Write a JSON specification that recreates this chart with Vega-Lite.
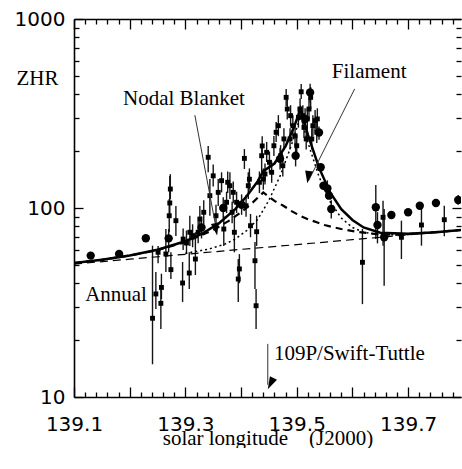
{
  "$schema": "https://vega.github.io/schema/vega-lite/v6.json",
  "width": 387,
  "height": 378,
  "padding": {"left": 14, "top": 9, "right": 0, "bottom": 0},
  "config": {
    "view": {"stroke": null},
    "axis": {"grid": false, "domainColor": "black", "tickColor": "black", "labelColor": "black", "titleColor": "black", "tickWidth": 1.3, "domainWidth": 1.6}
  },
  "datasets": {
    "pts": [
      {"x":139.241,"y":26.1,"lo":14.9,"hi":63.2,"k":"s"},
      {"x":139.247,"y":35.1,"lo":29.2,"hi":45.8,"k":"s"},
      {"x":139.251,"y":58.3,"lo":51,"hi":63,"k":"s"},
      {"x":139.256,"y":31.3,"lo":22.9,"hi":37.3,"k":"s"},
      {"x":139.257,"y":38.0,"lo":33,"hi":44.9,"k":"s"},
      {"x":139.265,"y":57.1,"lo":45.8,"hi":77.4,"k":"s"},
      {"x":139.270,"y":69.1,"lo":58.3,"hi":77.4,"k":"b"},
      {"x":139.271,"y":91.0,"lo":74.4,"hi":111.6,"k":"s"},
      {"x":139.272,"y":106.3,"lo":90.9,"hi":147.7,"k":"s"},
      {"x":139.273,"y":126,"lo":111.6,"hi":151,"k":"s"},
      {"x":139.274,"y":47.2,"lo":42.1,"hi":58.3,"k":"s"},
      {"x":139.283,"y":85.7,"lo":71.1,"hi":102.5,"k":"s"},
      {"x":139.295,"y":40.1,"lo":31.8,"hi":51.8,"k":"s"},
      {"x":139.296,"y":68.5,"lo":60,"hi":78,"k":"s"},
      {"x":139.302,"y":65.3,"lo":57,"hi":76,"k":"s"},
      {"x":139.307,"y":45.3,"lo":37.3,"hi":58.3,"k":"s"},
      {"x":139.308,"y":74.4,"lo":63,"hi":91,"k":"s"},
      {"x":139.313,"y":71.4,"lo":62,"hi":82,"k":"s"},
      {"x":139.318,"y":53.7,"lo":44.2,"hi":74.4,"k":"s"},
      {"x":139.323,"y":74.4,"lo":65,"hi":85,"k":"s"},
      {"x":139.326,"y":87.4,"lo":74.4,"hi":102.5,"k":"s"},
      {"x":139.329,"y":78.9,"lo":69,"hi":90,"k":"b"},
      {"x":139.333,"y":94.9,"lo":82,"hi":110,"k":"s"},
      {"x":139.341,"y":185.5,"lo":154.5,"hi":213,"k":"s"},
      {"x":139.344,"y":116.2,"lo":91,"hi":142.4,"k":"s"},
      {"x":139.350,"y":148,"lo":130,"hi":170,"k":"s"},
      {"x":139.355,"y":91.0,"lo":80,"hi":104,"k":"s"},
      {"x":139.359,"y":121,"lo":102.5,"hi":142.4,"k":"s"},
      {"x":139.365,"y":139.5,"lo":121,"hi":154.5,"k":"s"},
      {"x":139.368,"y":100,"lo":88,"hi":114,"k":"b"},
      {"x":139.369,"y":77.4,"lo":63,"hi":91,"k":"s"},
      {"x":139.374,"y":107.2,"lo":94,"hi":122,"k":"s"},
      {"x":139.376,"y":136.8,"lo":120,"hi":156,"k":"s"},
      {"x":139.380,"y":131.2,"lo":111.6,"hi":154.5,"k":"s"},
      {"x":139.384,"y":94.9,"lo":83,"hi":108,"k":"s"},
      {"x":139.386,"y":121,"lo":106,"hi":138,"k":"s"},
      {"x":139.388,"y":74.4,"lo":58.3,"hi":91,"k":"s"},
      {"x":139.392,"y":107.2,"lo":94,"hi":122,"k":"s"},
      {"x":139.395,"y":42.1,"lo":31.8,"hi":53.7,"k":"s"},
      {"x":139.397,"y":47.6,"lo":40,"hi":57,"k":"s"},
      {"x":139.401,"y":104,"lo":92,"hi":118,"k":"b"},
      {"x":139.406,"y":183,"lo":160.8,"hi":205,"k":"s"},
      {"x":139.409,"y":102.8,"lo":90,"hi":117,"k":"s"},
      {"x":139.413,"y":131.2,"lo":111.6,"hi":154.5,"k":"s"},
      {"x":139.415,"y":142,"lo":125,"hi":162,"k":"s"},
      {"x":139.417,"y":80.6,"lo":70,"hi":93,"k":"s"},
      {"x":139.425,"y":52.6,"lo":37.3,"hi":66.1,"k":"s"},
      {"x":139.427,"y":30.4,"lo":22.9,"hi":37.3,"k":"s"},
      {"x":139.428,"y":74.9,"lo":63,"hi":91,"k":"s"},
      {"x":139.433,"y":136.8,"lo":120,"hi":156,"k":"s"},
      {"x":139.437,"y":189,"lo":154.5,"hi":213,"k":"s"},
      {"x":139.438,"y":213,"lo":188,"hi":240,"k":"s"},
      {"x":139.440,"y":142.4,"lo":125,"hi":162,"k":"s"},
      {"x":139.443,"y":151.3,"lo":133,"hi":172,"k":"s"},
      {"x":139.446,"y":197,"lo":175.1,"hi":223.5,"k":"s"},
      {"x":139.451,"y":174.5,"lo":153,"hi":199,"k":"s"},
      {"x":139.455,"y":154.5,"lo":136,"hi":176,"k":"s"},
      {"x":139.459,"y":213.5,"lo":188.4,"hi":240.4,"k":"s"},
      {"x":139.463,"y":251.5,"lo":223.5,"hi":285,"k":"s"},
      {"x":139.467,"y":272.5,"lo":240,"hi":310,"k":"s"},
      {"x":139.470,"y":182,"lo":160,"hi":207,"k":"b"},
      {"x":139.471,"y":189,"lo":166,"hi":215,"k":"s"},
      {"x":139.475,"y":167.4,"lo":147,"hi":190,"k":"s"},
      {"x":139.477,"y":232,"lo":204,"hi":264,"k":"s"},
      {"x":139.481,"y":385,"lo":346.5,"hi":426,"k":"s"},
      {"x":139.483,"y":334,"lo":294,"hi":380,"k":"s"},
      {"x":139.488,"y":232,"lo":204,"hi":264,"k":"s"},
      {"x":139.489,"y":308,"lo":271,"hi":350,"k":"s"},
      {"x":139.493,"y":272.5,"lo":240,"hi":310,"k":"s"},
      {"x":139.497,"y":241,"lo":212,"hi":274,"k":"s"},
      {"x":139.498,"y":189,"lo":166,"hi":215,"k":"b"},
      {"x":139.500,"y":213.5,"lo":188,"hi":243,"k":"s"},
      {"x":139.503,"y":302,"lo":266,"hi":343,"k":"s"},
      {"x":139.506,"y":334,"lo":294,"hi":380,"k":"s"},
      {"x":139.508,"y":412,"lo":377.4,"hi":453,"k":"s"},
      {"x":139.511,"y":308,"lo":271,"hi":350,"k":"s"},
      {"x":139.513,"y":267,"lo":235,"hi":304,"k":"s"},
      {"x":139.515,"y":296,"lo":260,"hi":337,"k":"b"},
      {"x":139.517,"y":232,"lo":204,"hi":264,"k":"s"},
      {"x":139.519,"y":296,"lo":260,"hi":337,"k":"s"},
      {"x":139.522,"y":334,"lo":294,"hi":380,"k":"s"},
      {"x":139.524,"y":409,"lo":360,"hi":455,"k":"b"},
      {"x":139.525,"y":385,"lo":334,"hi":436.7,"k":"s"},
      {"x":139.527,"y":232,"lo":204,"hi":264,"k":"s"},
      {"x":139.529,"y":272.5,"lo":240,"hi":310,"k":"s"},
      {"x":139.533,"y":290,"lo":255,"hi":330,"k":"s"},
      {"x":139.536,"y":251.5,"lo":221,"hi":286,"k":"s"},
      {"x":139.537,"y":296,"lo":260,"hi":337,"k":"s"},
      {"x":139.618,"y":51.6,"lo":31.0,"hi":77.4,"k":"s"},
      {"x":139.655,"y":89.3,"lo":63.2,"hi":109.3,"k":"s"},
      {"x":139.688,"y":70.0,"lo":53.7,"hi":85.7,"k":"s"},
      {"x":139.724,"y":81.3,"lo":63.2,"hi":102.8,"k":"s"},
      {"x":139.765,"y":86.7,"lo":70.8,"hi":102.8,"k":"s"},
      {"x":139.130,"y":56.0,"lo":null,"hi":null,"k":"b"},
      {"x":139.181,"y":57.1,"lo":null,"hi":null,"k":"b"},
      {"x":139.229,"y":69.2,"lo":null,"hi":null,"k":"b"},
      {"x":139.540,"y":251,"lo":230,"hi":270,"k":"b"},
      {"x":139.543,"y":164.2,"lo":null,"hi":null,"k":"b"},
      {"x":139.548,"y":131.2,"lo":null,"hi":null,"k":"b"},
      {"x":139.555,"y":127.1,"lo":115,"hi":140,"k":"b"},
      {"x":139.558,"y":116.2,"lo":null,"hi":null,"k":"b"},
      {"x":139.562,"y":98.8,"lo":88,"hi":110,"k":"b"},
      {"x":139.642,"y":100.9,"lo":68.5,"hi":132.3,"k":"b"},
      {"x":139.645,"y":81.3,"lo":65,"hi":95,"k":"b"},
      {"x":139.657,"y":70.0,"lo":38.8,"hi":98.8,"k":"b"},
      {"x":139.670,"y":91.8,"lo":null,"hi":null,"k":"b"},
      {"x":139.700,"y":94.9,"lo":null,"hi":null,"k":"b"},
      {"x":139.721,"y":102.8,"lo":null,"hi":null,"k":"b"},
      {"x":139.750,"y":106.3,"lo":null,"hi":null,"k":"b"},
      {"x":139.790,"y":110.2,"lo":104,"hi":117,"k":"b"}
    ],
    "curves": [
      {"c":"annual","x":139.1,"y":50.5},{"c":"annual","x":139.2,"y":53.6},{"c":"annual","x":139.3,"y":56.9},{"c":"annual","x":139.4,"y":60.4},{"c":"annual","x":139.5,"y":64.0},{"c":"annual","x":139.6,"y":68.0},{"c":"annual","x":139.7,"y":72.1},{"c":"annual","x":139.795,"y":76.3},
      {"c":"blanket","x":139.10,"y":51.1},{"c":"blanket","x":139.15,"y":53.2},{"c":"blanket","x":139.20,"y":56.0},{"c":"blanket","x":139.25,"y":59.9},{"c":"blanket","x":139.30,"y":66.0},{"c":"blanket","x":139.35,"y":76.4},{"c":"blanket","x":139.38,"y":86.2},{"c":"blanket","x":139.40,"y":95.0},{"c":"blanket","x":139.42,"y":106.3},{"c":"blanket","x":139.44,"y":120.8},{"c":"blanket","x":139.46,"y":109},{"c":"blanket","x":139.476,"y":102.8},{"c":"blanket","x":139.49,"y":96.5},{"c":"blanket","x":139.506,"y":91},{"c":"blanket","x":139.52,"y":87.3},{"c":"blanket","x":139.536,"y":84},{"c":"blanket","x":139.55,"y":81.3},{"c":"blanket","x":139.566,"y":79.1},{"c":"blanket","x":139.58,"y":77.4},{"c":"blanket","x":139.596,"y":75.9},{"c":"blanket","x":139.61,"y":74.7},{"c":"blanket","x":139.625,"y":73.8},{"c":"blanket","x":139.64,"y":72.9},{"c":"blanket","x":139.655,"y":72.3},{"c":"blanket","x":139.68,"y":72.2},{"c":"blanket","x":139.70,"y":72.7},{"c":"blanket","x":139.75,"y":74.6},{"c":"blanket","x":139.795,"y":76.5},
      {"c":"filament","x":139.30,"y":57.6},{"c":"filament","x":139.34,"y":60.4},{"c":"filament","x":139.37,"y":64.2},{"c":"filament","x":139.39,"y":68.6},{"c":"filament","x":139.41,"y":75.9},{"c":"filament","x":139.43,"y":87.0},{"c":"filament","x":139.45,"y":109.8},{"c":"filament","x":139.47,"y":147.4},{"c":"filament","x":139.49,"y":213.1},{"c":"filament","x":139.507,"y":307.3},{"c":"filament","x":139.52,"y":222.3},{"c":"filament","x":139.54,"y":146.5},{"c":"filament","x":139.56,"y":107.9},{"c":"filament","x":139.58,"y":88.5},{"c":"filament","x":139.60,"y":78.9},{"c":"filament","x":139.62,"y":74.4},{"c":"filament","x":139.65,"y":72.0},{"c":"filament","x":139.70,"y":72.4},{"c":"filament","x":139.795,"y":76.3},
      {"c":"total","x":139.10,"y":51.1},{"c":"total","x":139.15,"y":53.3},{"c":"total","x":139.20,"y":56.0},{"c":"total","x":139.25,"y":60.1},{"c":"total","x":139.30,"y":66.7},{"c":"total","x":139.33,"y":73.1},{"c":"total","x":139.36,"y":82.9},{"c":"total","x":139.39,"y":98.9},{"c":"total","x":139.41,"y":115.4},{"c":"total","x":139.43,"y":138.6},{"c":"total","x":139.44,"y":156.6},{"c":"total","x":139.46,"y":171.9},{"c":"total","x":139.48,"y":212.6},{"c":"total","x":139.495,"y":267.4},{"c":"total","x":139.507,"y":334.3},{"c":"total","x":139.52,"y":244.3},{"c":"total","x":139.54,"y":163.5},{"c":"total","x":139.56,"y":120.9},{"c":"total","x":139.58,"y":98.5},{"c":"total","x":139.60,"y":86.4},{"c":"total","x":139.62,"y":78.9},{"c":"total","x":139.65,"y":74.0},{"c":"total","x":139.70,"y":73.0},{"c":"total","x":139.75,"y":74.5},{"c":"total","x":139.795,"y":76.4}
    ],
    "leaders": [
      {"name":"nodal","x":139.317,"y":310},{"name":"nodal","x":139.356,"y":76},
      {"name":"filament","x":139.604,"y":426.6},{"name":"filament","x":139.521,"y":139},
      {"name":"comet","x":139.448,"y":19.1},{"name":"comet","x":139.448,"y":11.6}
    ],
    "heads": [
      {"name":"nodal","x":139.357,"y":71.5},
      {"name":"filament","x":139.519,"y":135},
      {"name":"comet","x":139.448,"y":11.0}
    ],
    "notes": [
      {"text":"Nodal Blanket","x":139.188,"y":350},
      {"text":"Filament","x":139.563,"y":487},
      {"text":"Annual","x":139.120,"y":32.2},
      {"text":"109P/Swift-Tuttle","x":139.459,"y":15.7}
    ]
  },
  "layer": [
    {
      "data": {"name": "pts"},
      "transform": [{"filter": "datum.lo != null"}],
      "mark": {"type": "rule", "strokeWidth": 1.4, "color": "#151515", "clip": true},
      "encoding": {
        "x": {"field": "x", "type": "quantitative", "scale": {"domain": [139.1, 139.795], "nice": false, "zero": false}, "axis": null},
        "y": {"field": "lo", "type": "quantitative", "scale": {"type": "log", "domain": [10, 1000], "nice": false}, "axis": null},
        "y2": {"field": "hi"}
      }
    },
    {
      "data": {"name": "curves"},
      "transform": [{"filter": "datum.c == 'annual'"}],
      "mark": {"type": "line", "color": "black", "strokeWidth": 1.2, "strokeDash": [8, 5], "clip": true},
      "encoding": {
        "x": {"field": "x", "type": "quantitative", "scale": {"domain": [139.1, 139.795], "nice": false, "zero": false},
          "axis": {
            "orient": "bottom",
            "values": [139.1,139.2,139.3,139.4,139.5,139.6,139.7],
            "tickSize": -10,
            "labelExpr": "round(datum.value*10) % 2 == 1 ? format(datum.value, '.1f') : ''",
            "labelFont": "DejaVu Sans", "labelFontSize": 20, "labelPadding": 27,
            "labelFlush": false, "labelOverlap": false,
            "title": "solar longitude\u00a0\u00a0\u00a0\u00a0(J2000)",
            "titleFont": "Liberation Serif", "titleFontSize": 21, "titleFontWeight": "normal",
            "titleY": 47, "titleBaseline": "alphabetic"
          }
        },
        "y": {"field": "y", "type": "quantitative", "scale": {"type": "log", "domain": [10, 1000], "nice": false},
          "axis": {
            "orient": "left",
            "values": [10, 100, 1000],
            "tickSize": -9,
            "labelExpr": "format(datum.value, 'd')",
            "labelFont": "DejaVu Sans", "labelFontSize": 20, "labelPadding": 18,
            "labelOverlap": false,
            "title": "ZHR", "titleAngle": 0, "titleX": -58, "titleY": 65, "titleAlign": "left", "titleBaseline": "alphabetic",
            "titleFont": "Liberation Serif", "titleFontSize": 21, "titleFontWeight": "normal"
          }
        }
      }
    },
    {
      "data": {"name": "curves"},
      "transform": [{"filter": "datum.c == 'blanket'"}],
      "mark": {"type": "line", "color": "black", "strokeWidth": 2.2, "strokeDash": [7, 5], "clip": true},
      "encoding": {
        "x": {"field": "x", "type": "quantitative", "scale": {"domain": [139.1, 139.795], "nice": false, "zero": false},
          "axis": {
            "orient": "bottom",
            "values": [139.12,139.14,139.16,139.18,139.22,139.24,139.26,139.28,139.32,139.34,139.36,139.38,139.42,139.44,139.46,139.48,139.52,139.54,139.56,139.58,139.62,139.64,139.66,139.68,139.72,139.74,139.76,139.78],
            "tickSize": -5, "labels": false, "domain": false, "title": null
          }
        },
        "y": {"field": "y", "type": "quantitative", "scale": {"type": "log", "domain": [10, 1000], "nice": false},
          "axis": {
            "orient": "left",
            "values": [20,30,40,50,60,70,80,90,200,300,400,500,600,700,800,900],
            "tickSize": -5, "labels": false, "domain": false, "title": null
          }
        }
      }
    },
    {
      "data": {"name": "curves"},
      "transform": [{"filter": "datum.c == 'filament'"}],
      "mark": {"type": "line", "color": "black", "strokeWidth": 1.5, "strokeDash": [2, 3], "clip": true},
      "encoding": {
        "x": {"field": "x", "type": "quantitative", "scale": {"domain": [139.1, 139.795], "nice": false, "zero": false},
          "axis": {
            "orient": "top",
            "values": [139.1,139.2,139.3,139.4,139.5,139.6,139.7],
            "tickSize": -10, "labels": false, "title": null
          }
        },
        "y": {"field": "y", "type": "quantitative", "scale": {"type": "log", "domain": [10, 1000], "nice": false},
          "axis": {
            "orient": "right",
            "values": [10, 100, 1000],
            "tickSize": -9, "labels": false, "domain": false, "title": null
          }
        }
      }
    },
    {
      "data": {"name": "curves"},
      "transform": [{"filter": "datum.c == 'total'"}],
      "mark": {"type": "line", "color": "black", "strokeWidth": 2.5, "clip": true},
      "encoding": {
        "x": {"field": "x", "type": "quantitative", "scale": {"domain": [139.1, 139.795], "nice": false, "zero": false},
          "axis": {
            "orient": "top",
            "values": [139.12,139.14,139.16,139.18,139.22,139.24,139.26,139.28,139.32,139.34,139.36,139.38,139.42,139.44,139.46,139.48,139.52,139.54,139.56,139.58,139.62,139.64,139.66,139.68,139.72,139.74,139.76,139.78],
            "tickSize": -5, "labels": false, "domain": false, "title": null
          }
        },
        "y": {"field": "y", "type": "quantitative", "scale": {"type": "log", "domain": [10, 1000], "nice": false},
          "axis": {
            "orient": "right",
            "values": [20,30,40,50,60,70,80,90,200,300,400,500,600,700,800,900],
            "tickSize": -5, "labels": false, "domain": false, "title": null
          }
        }
      }
    },
    {
      "data": {"name": "pts"},
      "transform": [{"filter": "datum.k == 's'"}],
      "mark": {"type": "point", "shape": "square", "filled": true, "size": 24, "color": "black", "opacity": 1, "clip": true},
      "encoding": {
        "x": {"field": "x", "type": "quantitative", "scale": {"domain": [139.1, 139.795], "nice": false, "zero": false}, "axis": null},
        "y": {"field": "y", "type": "quantitative", "scale": {"type": "log", "domain": [10, 1000], "nice": false}, "axis": null}
      }
    },
    {
      "data": {"name": "pts"},
      "transform": [{"filter": "datum.k == 'b'"}],
      "mark": {"type": "point", "shape": "circle", "filled": true, "size": 70, "color": "black", "opacity": 1, "clip": true},
      "encoding": {
        "x": {"field": "x", "type": "quantitative", "scale": {"domain": [139.1, 139.795], "nice": false, "zero": false}, "axis": null},
        "y": {"field": "y", "type": "quantitative", "scale": {"type": "log", "domain": [10, 1000], "nice": false}, "axis": null}
      }
    },
    {
      "data": {"name": "leaders"},
      "mark": {"type": "line", "color": "#333", "strokeWidth": 1},
      "encoding": {
        "x": {"field": "x", "type": "quantitative", "scale": {"domain": [139.1, 139.795], "nice": false, "zero": false}, "axis": null},
        "y": {"field": "y", "type": "quantitative", "scale": {"type": "log", "domain": [10, 1000], "nice": false}, "axis": null},
        "detail": {"field": "name"}
      }
    },
    {
      "data": {"name": "heads"},
      "mark": {"type": "point", "shape": "M0,0L0.7,2.2L-0.7,2.2Z", "filled": true, "size": 130, "color": "black", "opacity": 1},
      "encoding": {
        "x": {"field": "x", "type": "quantitative", "scale": {"domain": [139.1, 139.795], "nice": false, "zero": false}, "axis": null},
        "y": {"field": "y", "type": "quantitative", "scale": {"type": "log", "domain": [10, 1000], "nice": false}, "axis": null},
        "angle": {"field": "name", "type": "nominal", "scale": {"domain": ["nodal", "filament", "comet"], "range": [169.5, 207, 180]}, "legend": null}
      }
    },
    {
      "data": {"name": "notes"},
      "mark": {"type": "text", "align": "left", "baseline": "alphabetic", "font": "Liberation Serif", "fontSize": 21, "color": "black"},
      "encoding": {
        "x": {"field": "x", "type": "quantitative", "scale": {"domain": [139.1, 139.795], "nice": false, "zero": false}, "axis": null},
        "y": {"field": "y", "type": "quantitative", "scale": {"type": "log", "domain": [10, 1000], "nice": false}, "axis": null},
        "text": {"field": "text"}
      }
    }
  ],
  "resolve": {"axis": {"x": "independent", "y": "independent"}}
}
